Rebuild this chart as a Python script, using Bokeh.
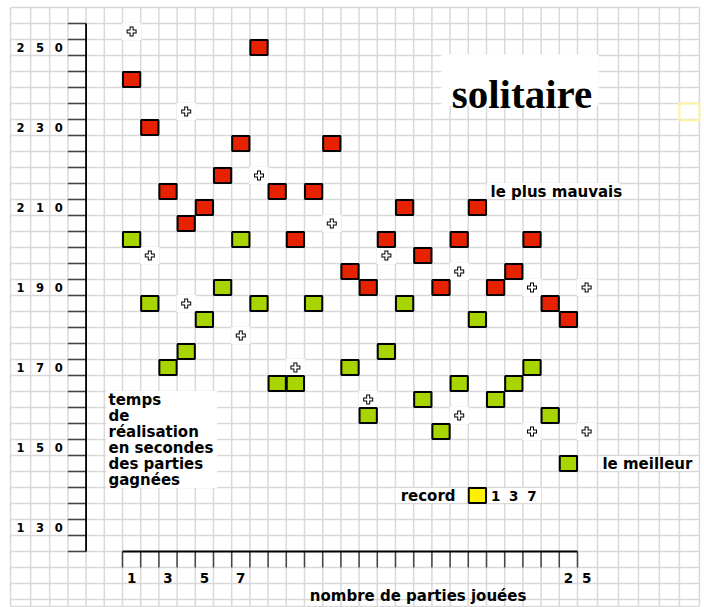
from bokeh.plotting import figure
from bokeh.models import Range1d
from bokeh.core.properties import value
from bokeh.embed import file_html
from bokeh.resources import INLINE

# ---------------- data ----------------
games = list(range(1, 26))
worst_times = [242, 230, 214, 206, 210, 218, 226, 250, 214, 202, 214, 226, 194,
               190, 202, 210, 198, 190, 202, 210, 190, 194, 202, 186, 182]
best_times = [202, 186, 170, 174, 182, 190, 202, 186, 166, 166, 186, None, 170,
              158, 174, 186, 162, 154, 166, 182, 162, 166, 170, 158, 146]
cross_games = [1, 2, 4, 4, 7, 8, 10, 12, 14, 15, 19, 19, 23, 23, 26, 26]
cross_times = [254, 198, 234, 186, 178, 218, 170, 206, 162, 198, 194, 158, 190, 154, 190, 154]
y_tick_values = [250, 230, 210, 190, 170, 150, 130]
x_tick_values = [1, 3, 5, 7, 25]
record_label = "137"
record_game = 20
record_cell = 138
title = "solitaire"
ylabel_lines = ["temps", "de", "réalisation", "en secondes", "des parties", "gagnées"]
xlabel = "nombre de parties jouées"

FONT = value("DejaVu Sans")
RED = "#e62200"
GREEN = "#a8d400"
YELLOW = "#fff000"
GRID = "#d9d9d9"

p = figure(width=704, height=607, output_backend="svg", toolbar_location=None,
           x_range=Range1d(-6.203, 32.478), y_range=Range1d(110.0, 261.75),
           x_axis_type=None, y_axis_type=None, min_border=0)
p.outline_line_color = None
p.background_fill_color = "white"
p.border_fill_color = "white"

# ---------------- squared paper ----------------
vx = [-5.65, -4.55, -3.5, -2.5, -1.5, -0.5] + [k + 0.5 for k in range(26)] + \
     [26.6, 27.75, 28.85, 30.0, 31.1, 32.2]
p.segment(x0=vx, x1=vx, y0=[110.25] * len(vx), y1=[260] * len(vx),
          line_color=GRID, line_width=1.5)
hy = [112 + 4 * k for k in range(38)] + [110.25]
p.segment(x0=[-5.65] * len(hy), x1=[32.2] * len(hy), y0=hy, y1=hy,
          line_color=GRID, line_width=1.5)

# white patches behind texts
p.quad(left=[18.03, 20.5, 26.65, 15.5, -0.4], right=[26.65, 27.8, 31.6, 23.5, 5.7],
       bottom=[235.5, 212.2, 144.1, 136.1, 139.9], top=[248.25, 216.1, 147.9, 139.9, 164.1],
       fill_color="white", line_color=None)
# faint yellow cell
p.quad(left=[31.1], right=[32.2], bottom=[231.8], top=[236.0],
       fill_color=None, line_color="#fff3a0", line_width=2)

# ---------------- axes drawn as ladders ----------------
ty = [124 + 4 * k for k in range(34)]
p.segment(x0=[-2.5] * len(ty), x1=[-1.5] * len(ty), y0=ty, y1=ty,
          line_color="#444444", line_width=1.5)
p.segment(x0=[-1.5], x1=[-1.5], y0=[124], y1=[256], line_color="black", line_width=1.8)
tx = [k + 0.5 for k in range(26)]
p.segment(x0=tx, x1=tx, y0=[124] * len(tx), y1=[120] * len(tx),
          line_color="#444444", line_width=1.5)
p.segment(x0=[0.5], x1=[25.5], y0=[124], y1=[124], line_color="black", line_width=1.8)

# y tick labels, one digit per cell
ycols = [-5.1, -4.03, -3.0]
yd_x, yd_y, yd_t = [], [], []
for v in y_tick_values:
    for i, ch in enumerate(str(v)):
        yd_x.append(ycols[i]); yd_y.append(v); yd_t.append(ch)
p.text(x=yd_x, y=yd_y, text=yd_t, text_font=FONT, text_font_style="bold",
       text_font_size="11.5px", text_align="center", text_baseline="middle",
       text_color="black")

# x tick labels, one digit per cell
xd_x, xd_y, xd_t = [], [], []
for g in x_tick_values:
    for i, ch in enumerate(str(g)):
        xd_x.append(g + i); xd_y.append(117.5); xd_t.append(ch)
p.text(x=xd_x, y=xd_y, text=xd_t, text_font=FONT, text_font_style="bold",
       text_font_size="13.5px", text_align="center", text_baseline="middle",
       text_color="black")

# ---------------- data marks ----------------
p.rect(x=cross_games, y=cross_times, width=1.05, height=4.3,
       fill_color="white", line_color=None)
p.scatter(x=cross_games, y=cross_times, marker="cross", size=10,
          line_color="black", line_width=4)
p.scatter(x=cross_games, y=cross_times, marker="cross", size=8,
          line_color="white", line_width=2)

p.rect(x=games, y=worst_times, width=0.95, height=3.8,
       fill_color=RED, line_color="black", line_width=2)
bg = [g for g, b in zip(games, best_times) if b is not None]
bt = [b for b in best_times if b is not None]
p.rect(x=bg, y=bt, width=0.95, height=3.8,
       fill_color=GREEN, line_color="black", line_width=2)

# record swatch
p.rect(x=[record_game], y=[record_cell], width=0.95, height=3.8,
       fill_color=YELLOW, line_color="black", line_width=2)
p.text(x=[record_game - 1.2], y=[record_cell], text=["record"], text_font=FONT,
       text_font_style="bold", text_font_size="15px", text_align="right",
       text_baseline="middle")
p.text(x=[record_game + 1 + i for i in range(len(record_label))],
       y=[record_cell] * len(record_label), text=list(record_label), text_font=FONT,
       text_font_style="bold", text_font_size="13.5px", text_align="center",
       text_baseline="middle")

# ---------------- texts ----------------
p.text(x=[22.45], y=[238.4], text=[title], text_font=value("Liberation Serif"),
       text_font_style="bold", text_font_size="41px", text_align="center",
       text_baseline="alphabetic")
p.text(x=[20.72], y=[214], text=["le plus mauvais"], text_font=FONT,
       text_font_style="bold", text_font_size="15px", text_align="left",
       text_baseline="middle")
p.text(x=[26.87], y=[146], text=["le meilleur"], text_font=FONT,
       text_font_style="bold", text_font_size="15px", text_align="left",
       text_baseline="middle")
p.text(x=[-0.27] * len(ylabel_lines), y=[162 - 4 * i for i in range(len(ylabel_lines))],
       text=ylabel_lines, text_font=FONT, text_font_style="bold", text_font_size="15px",
       text_align="left", text_baseline="middle")
p.text(x=[16.74], y=[112.9], text=[xlabel], text_font=FONT, text_font_style="bold",
       text_font_size="15px", text_align="center", text_baseline="middle")

open("out.html", "w").write(file_html(p, INLINE))
